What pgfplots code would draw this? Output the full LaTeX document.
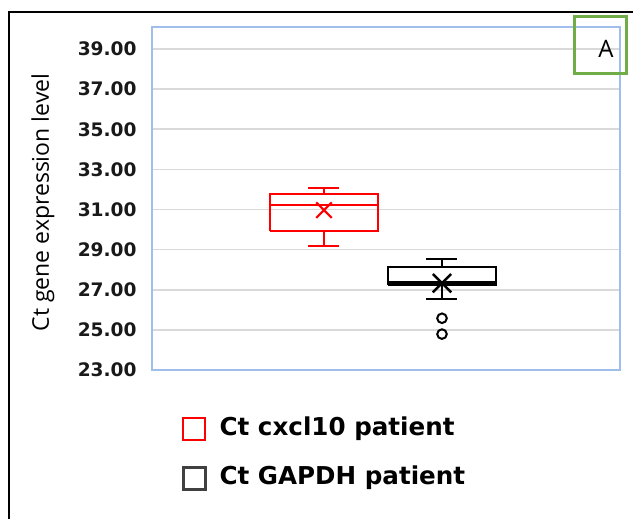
\documentclass[border=0pt]{standalone}
\usepackage{pgfplots}
\pgfplotsset{compat=1.18}
\usepackage{fontspec}
\setmainfont{DejaVu Sans}
\newfontfamily\opensans{Open Sans}
\definecolor{gridgray}{RGB}{217,217,217}
\definecolor{borderblue}{RGB}{160,190,235}
\definecolor{boxgreen}{RGB}{112,173,71}
\begin{document}
\begin{tikzpicture}
\useasboundingbox (-76pt,-74.5pt) rectangle (240.5pt,185pt);
\draw[line width=0.75pt] (-71.5pt,-74.5pt) -- (-71.5pt,179pt) -- (240.5pt,179pt);
\begin{axis}[
  at={(0,0)}, anchor=south west,
  scale only axis, width=234pt, height=171.5pt,
  xmin=0, xmax=468, ymin=23, ymax=40.1,
  xtick=\empty,
  ytick={23,25,...,39},
  ymajorgrids, grid style={gridgray, line width=0.8pt},
  axis line style={borderblue, line width=0.7pt},
  major tick length=0pt,
  /pgf/number format/.cd, fixed, fixed zerofill, precision=2, assume math mode=true,
  /pgfplots/.cd,
  yticklabel style={font=\fontsize{9.3}{11}\selectfont\bfseries, inner sep=0pt, xshift=-7.5pt, text=black!90},
  ylabel={Ct gene expression level},
  ylabel style={at={(axis description cs:-0.233,0.488)}, anchor=center, font=\opensans\fontsize{11.5}{13}\selectfont},
  legend style={at={(axis description cs:0,0)}, anchor=north west, xshift=12pt, yshift=-21.5pt,
    draw=none, fill=none, font=\fontsize{12.3}{14}\selectfont\bfseries, row sep=12.5pt,
    nodes={inner sep=0pt, text height=8.5pt, text depth=2.5pt},
    /tikz/every odd column/.append style={column sep=6.5pt}},
  legend cell align=left,
]
\addlegendimage{legend image code/.code={\draw[red, line width=1pt] (0pt,-5.5pt) rectangle (11pt,5.5pt);}}
\addlegendentry{Ct cxcl10 patient}
\addlegendimage{legend image code/.code={\draw[black!75, line width=1.1pt] (0pt,-5.5pt) rectangle (11pt,5.5pt);}}
\addlegendentry{Ct GAPDH patient}
% cxcl10 box (red)
\addplot[red, line width=1pt, forget plot] coordinates {(118,29.94) (226,29.94) (226,31.77) (118,31.77) (118,29.94)};
\addplot[red, line width=1pt, forget plot] coordinates {(118,31.22) (226,31.22)};
\addplot[red, line width=1pt, forget plot] coordinates {(172,31.77) (172,32.09)};
\addplot[red, line width=1pt, forget plot] coordinates {(156.5,32.09) (187.5,32.09)};
\addplot[red, line width=1pt, forget plot] coordinates {(172,29.94) (172,29.18)};
\addplot[red, line width=1pt, forget plot] coordinates {(156.5,29.18) (187.5,29.18)};
\addplot[red, only marks, mark=x, mark size=5.5pt, mark options={line width=1.1pt}, forget plot] coordinates {(172,30.97)};
% GAPDH box (black)
\addplot[black, line width=1.2pt, forget plot] coordinates {(236,27.26) (344,27.26) (344,28.12) (236,28.12) (236,27.26)};
\addplot[black, line width=1.2pt, forget plot] coordinates {(236,27.36) (344,27.36)};
\addplot[black, line width=1.2pt, forget plot] coordinates {(290,28.12) (290,28.53)};
\addplot[black, line width=1.2pt, forget plot] coordinates {(274.5,28.53) (305.5,28.53)};
\addplot[black, line width=1.2pt, forget plot] coordinates {(290,27.26) (290,26.54)};
\addplot[black, line width=1.2pt, forget plot] coordinates {(274.5,26.54) (305.5,26.54)};
\addplot[black, only marks, mark=x, mark size=6.5pt, mark options={line width=1.2pt}, forget plot] coordinates {(290,27.33)};
\addplot[black, only marks, mark=o, mark size=2.4pt, mark options={line width=1pt}, forget plot] coordinates {(290,25.58) (290,24.79)};
\end{axis}
\draw[boxgreen, line width=1.5pt] (211pt,148pt) rectangle (237pt,176.5pt);
\node[font=\opensans\fontsize{12}{13}\selectfont, inner sep=0pt] at (227pt,160.5pt) {A};
\end{tikzpicture}
\end{document}
